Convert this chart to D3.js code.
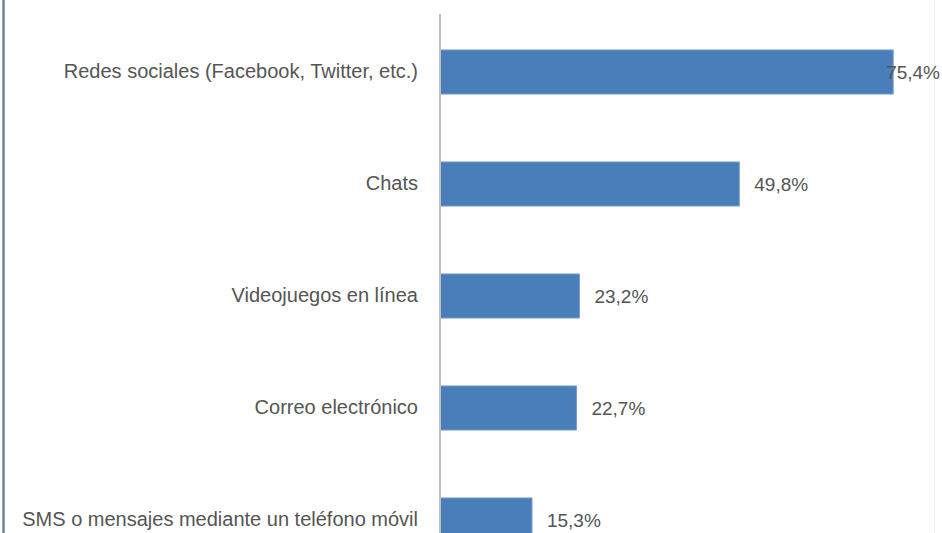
<!DOCTYPE html>
<html><head><meta charset="utf-8">
<script src="https://cdn.jsdelivr.net/npm/d3@7"></script>
<style>html,body{margin:0;padding:0;background:#fff;overflow:hidden}</style>
</head><body>
<svg id="c" width="942" height="533"></svg>
<script>
const categories = ["Redes sociales (Facebook, Twitter, etc.)", "Chats", "Videojuegos en línea", "Correo electrónico", "SMS o mensajes mediante un teléfono móvil"];
const values = [75.4, 49.8, 23.2, 22.7, 15.3];
const valueLabels = ["75,4%", "49,8%", "23,2%", "22,7%", "15,3%"];

const W = 942, H = 533;
const svg = d3.select("#c");
const x0 = 440;
const x = d3.scaleLinear().domain([0, 100]).range([x0, x0 + 601]);
const step = 112;
const y = d3.scaleBand().domain(categories).range([16, 16 + step * categories.length]).paddingInner(0.607).paddingOuter(0.3035);

// frame
svg.append("line").attr("x1", 3.5).attr("x2", 3.5).attr("y1", 0).attr("y2", H).attr("stroke", "#6d82a3").attr("stroke-width", 2.5);
svg.append("line").attr("x1", 934.5).attr("x2", 934.5).attr("y1", 0).attr("y2", H).attr("stroke", "#f2f2f2").attr("stroke-width", 1);

// bars
svg.selectAll("rect.bar").data(categories).join("rect")
  .attr("class", "bar")
  .attr("x", x(0))
  .attr("y", d => y(d))
  .attr("width", (d, i) => x(values[i]) - x(0))
  .attr("height", y.bandwidth())
  .attr("fill", "#4a7ebb")
  .attr("stroke", "#6f9bd2").attr("stroke-width", 1);

const FONT = "'Liberation Sans','Arial',sans-serif";
// axis
const axis = d3.axisLeft(y).tickSize(0).tickPadding(22);
const g = svg.append("g").attr("transform", `translate(${x0},0)`).call(axis);
g.select(".domain").attr("stroke", "#bfbfbf").attr("stroke-width", 2).attr("d", `M0,14V${H}`);
g.selectAll("text").attr("font-family", FONT)
  .attr("font-size", 20).attr("fill", "#555555");

// value labels
const lab = svg.selectAll("text.val").data(categories).join("text")
  .attr("class", "val")
  .attr("y", d => y(d) + y.bandwidth() / 2)
  .attr("dy", "0.35em")
  .attr("font-family", FONT)
  .attr("font-size", 19).attr("fill", "#555555")
  .text((d, i) => valueLabels[i]);
lab.attr("x", function(d, i) {
  const w = this.getComputedTextLength();
  return Math.min(x(values[i]) + 15, W - w - 2);
});
</script>
</body></html>
